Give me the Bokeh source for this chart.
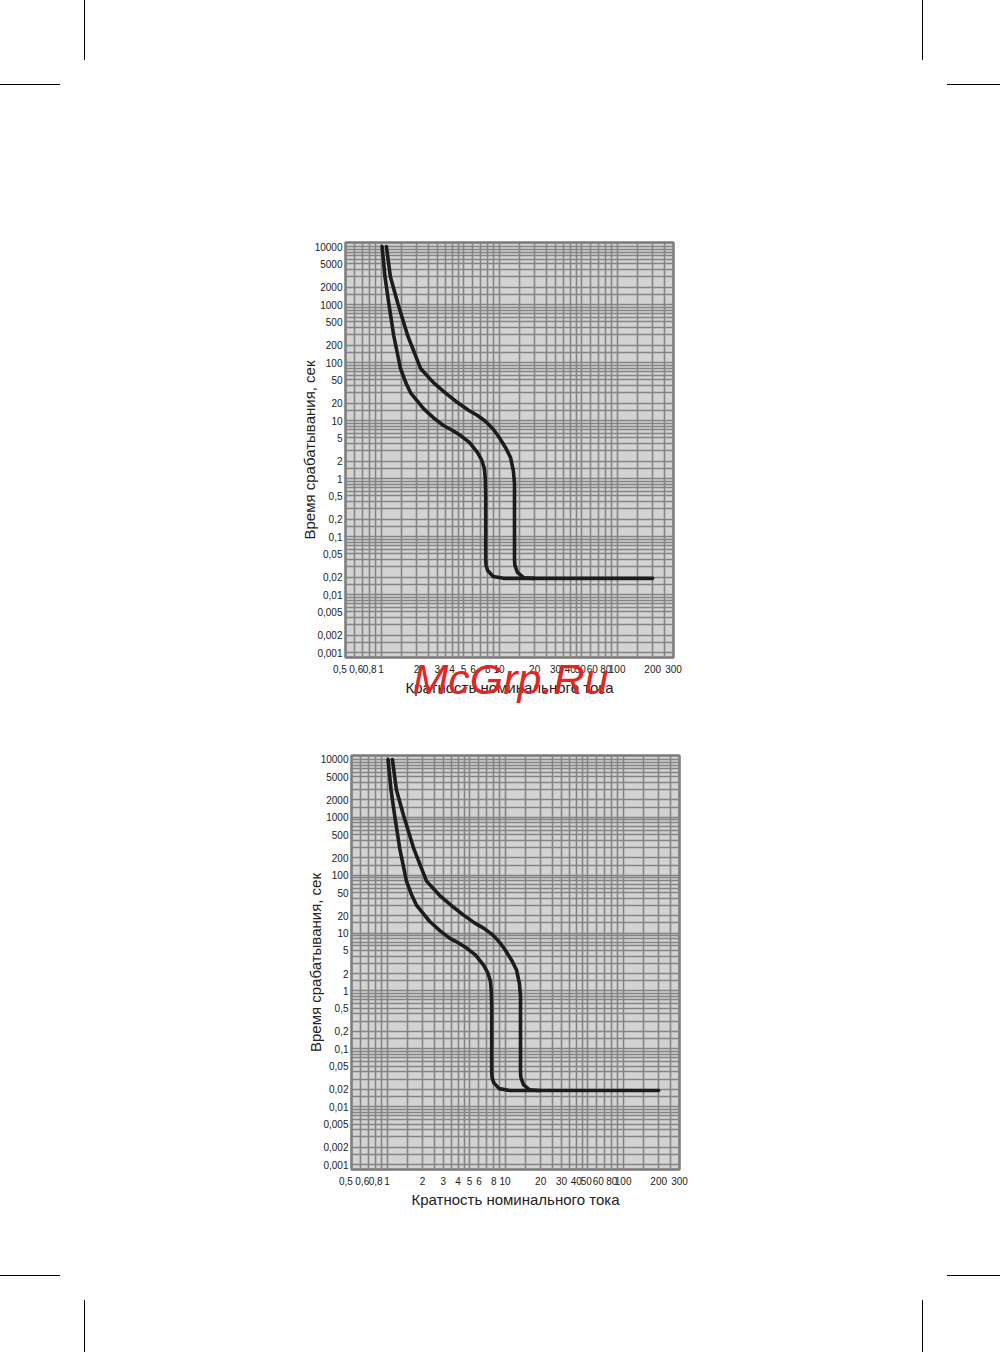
from bokeh.plotting import figure
from bokeh.layouts import column, row
from bokeh.models import FixedTicker, Range1d, Title, Div, Spacer
from bokeh.embed import file_html
from bokeh.resources import INLINE

# ---------------- data ----------------
x_ticks = [0.5, 0.6, 0.8, 1, 2, 3, 4, 5, 6, 8, 10, 20, 30, 40, 50, 60, 80, 100, 200, 300]
x_tick_labels = ["0,5", "0,6", "0,8", "1", "2", "3", "4", "5", "6", "8", "10",
                 "20", "30", "40", "50", "60", "80", "100", "200", "300"]
y_ticks = [0.001, 0.002, 0.005, 0.01, 0.02, 0.05, 0.1, 0.2, 0.5, 1, 2, 5,
           10, 20, 50, 100, 200, 500, 1000, 2000, 5000, 10000]
y_tick_labels = ["0,001", "0,002", "0,005", "0,01", "0,02", "0,05", "0,1", "0,2", "0,5",
                 "1", "2", "5", "10", "20", "50", "100", "200", "500", "1000", "2000",
                 "5000", "10000"]

# lower (left) curve: multiple of rated current vs. tripping time, s
curve_a_x = [1.02, 1.08, 1.16, 1.28, 1.46, 1.62, 1.78, 2.29, 2.8, 3.38, 4.0, 4.72,
             5.6, 6.57, 7.1, 7.5, 7.65, 7.7, 7.7, 7.7, 7.75, 8.0, 8.9, 10.9, 20]
curve_a_t = [10000, 3000, 1080, 292, 79, 45, 30, 16, 11, 8.2, 6.8, 5.5,
             4.2, 2.8, 2.1, 1.5, 0.95, 0.5, 0.1, 0.04, 0.032, 0.026, 0.0205, 0.019, 0.019]

# upper (right) curve
curve_b_x = [1.11, 1.2, 1.38, 1.68, 2.16, 2.78, 3.5, 4.45, 5.5, 6.57, 7.7, 8.8, 9.9,
             11.35, 12.5, 13.2, 13.5, 13.5, 13.5, 13.6, 14.3, 16.1, 19, 200]
curve_b_t = [10000, 3000, 1080, 292, 79, 45, 30, 20.4, 15, 12.2, 9.6, 7.3, 5.3,
             3.4, 2.3, 1.37, 0.82, 0.1, 0.04, 0.032, 0.024, 0.0195, 0.019, 0.019]

x_title = "Кратность номинального тока"
y_title = "Время срабатывания, сек"
watermark = "McGrp.Ru"

# ---------------- style ----------------
PAGE_W = 1000
FONT = "Liberation Sans"
BG = "#d3d3d3"
GRID = "#848484"
NB = "\u00a0"
x_mant = [1, 1.5, 2, 2.5, 3, 3.5, 4, 4.5, 5, 6, 7, 8, 9]
y_mant = [1, 1.5, 2, 3, 4, 5, 6, 7, 8, 9]
x_grid = [m * 10.0 ** e for e in range(-1, 3) for m in x_mant if 0.5 <= m * 10.0 ** e <= 300]
y_grid = [m * 10.0 ** e for e in range(-3, 5) for m in y_mant if 0.001 <= m * 10.0 ** e <= 10000]
# small nudges of crowded tick labels (leading, trailing non-breaking spaces)
label_pad = {"0,5": (0, 4), "0,6": (1, 0), "50": (0, 1), "60": (1, 0)}


def padded(s):
    lead, trail = label_pad.get(s, (0, 0))
    return NB * lead + s + NB * trail


def make_chart(width, height, left, top, frame_h, with_mark=False):
    fw = 328
    p = figure(width=width, height=height, x_axis_type="log", y_axis_type="log",
               x_range=Range1d(0.4999, 300.01),
               y_range=Range1d(10 ** (-3 - 5 / 58), 10 ** (4 + 4 / 58)),
               output_backend="svg", toolbar_location=None,
               min_border_left=left, min_border_right=width - left - fw,
               min_border_top=top, min_border_bottom=height - top - frame_h)
    p.background_fill_color = BG
    p.border_fill_color = "white"
    p.outline_line_color = "#7a7a7a"
    p.outline_line_width = 2.5

    p.xgrid.ticker = FixedTicker(ticks=x_grid)
    p.ygrid.ticker = FixedTicker(ticks=y_grid)
    for g in (p.xgrid, p.ygrid):
        g.grid_line_color = GRID
        g.grid_line_width = 1.6
        g.grid_line_alpha = 1.0

    p.xaxis.ticker = FixedTicker(ticks=x_ticks)
    p.yaxis.ticker = FixedTicker(ticks=y_ticks)
    p.xaxis.major_label_overrides = {v: padded(s) for v, s in zip(x_ticks, x_tick_labels)}
    p.yaxis.major_label_overrides = {v: s for v, s in zip(y_ticks, y_tick_labels)}
    for ax in (p.xaxis, p.yaxis):
        ax.axis_line_color = None
        ax.major_tick_line_color = None
        ax.minor_tick_line_color = None
        ax.major_tick_out = 0
        ax.major_tick_in = 0
        ax.minor_tick_out = 0
        ax.minor_tick_in = 0
        ax.major_label_text_font = FONT
        ax.major_label_text_font_size = "10px"
        ax.major_label_text_color = "#222222"
        ax.axis_label_text_font = FONT
        ax.axis_label_text_font_size = "15px"
        ax.axis_label_text_font_style = "normal"
        ax.axis_label_text_color = "#222222"
    p.xaxis.major_label_standoff = 6
    p.yaxis.major_label_standoff = 3
    p.xaxis.axis_label = x_title
    p.yaxis.axis_label = y_title
    p.xaxis.axis_label_standoff = 1
    p.yaxis.axis_label_standoff = -6

    for xs, ts in ((curve_a_x, curve_a_t), (curve_b_x, curve_b_t)):
        p.line(xs, ts, line_color="#1c1c1c", line_width=3.6, line_join="round", line_cap="round")

    if with_mark:
        p.add_layout(Title(text=watermark, text_color="#e52421", text_font=FONT,
                           text_font_size="43px", text_font_style="italic",
                           align="left", offset=67, vertical_align="top",
                           standoff=-88), "below")
    return p


def crop_div(height, lines):
    parts = "".join(
        '<div style="position:absolute;left:%dpx;top:%dpx;width:%dpx;height:%dpx;background:#000"></div>'
        % (l, t, w, h) for (l, t, w, h) in lines)
    html = ('<div style="position:relative;width:%dpx;height:%dpx;overflow:hidden">%s</div>'
            % (PAGE_W, height, parts))
    return Div(text=html, width=PAGE_W, height=height, margin=(0, 0, 0, 0))


top_marks = crop_div(90, [(84, 0, 1, 60), (0, 84, 60, 1), (922, 0, 1, 60), (947, 84, 61, 1)])
p1 = make_chart(PAGE_W, 630, 345, 152, 415, with_mark=True)
p2 = make_chart(PAGE_W - 6, 550, 345, 35, 414)
bottom_marks = crop_div(82, [(84, 30, 1, 60), (0, 5, 60, 1), (922, 30, 1, 60), (947, 5, 61, 1)])

layout = column(top_marks, p1, row(Spacer(width=6, height=550), p2, spacing=0),
                bottom_marks, spacing=0)
open("out.html", "w").write(file_html(layout, INLINE))
